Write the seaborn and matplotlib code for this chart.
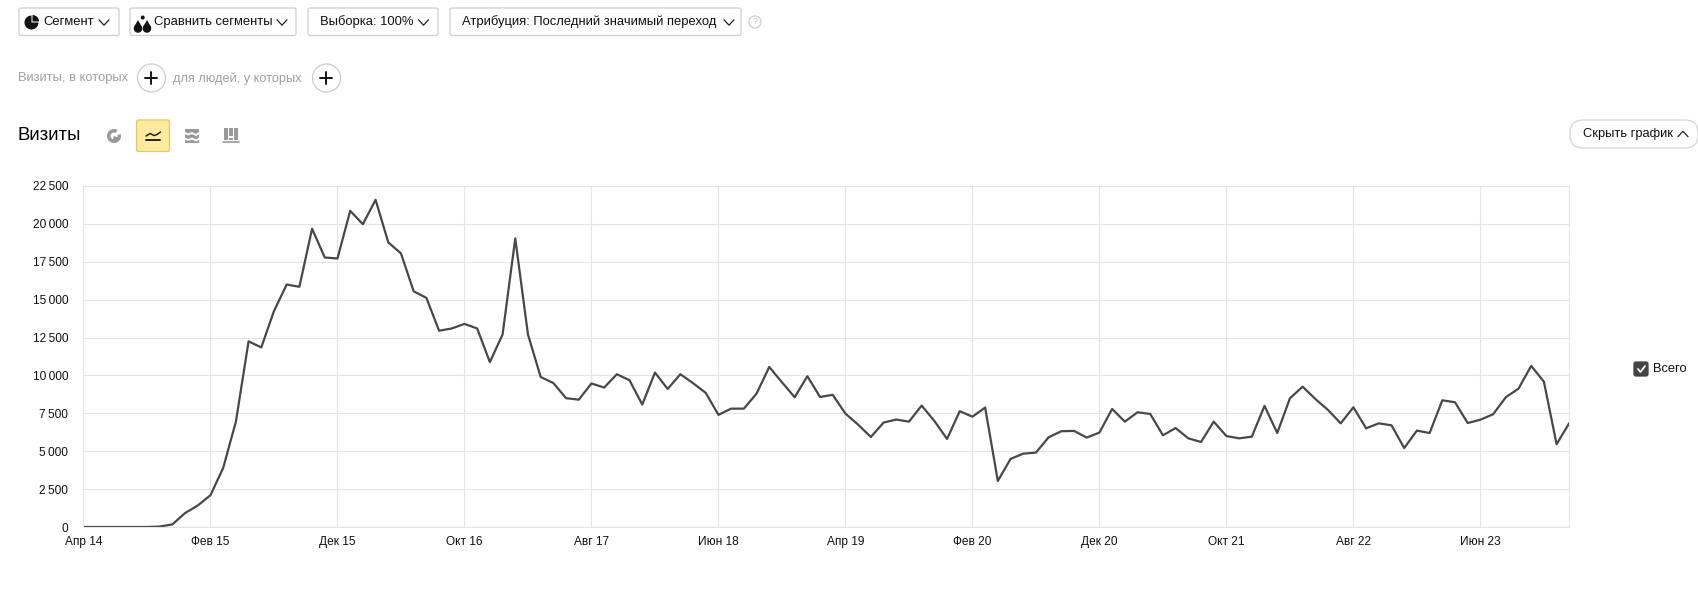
import matplotlib
matplotlib.use('Agg')
import matplotlib.pyplot as plt
import matplotlib.patches as mp
import pandas as pd
import seaborn as sns

# monthly visits, Apr 2014 .. Jan 2024
visits = [
    0, 0, 0, 0, 0, 0, 30, 170, 920, 1420, 2100, 3900, 6950, 12250, 11850, 14250,
    16000, 15850, 19680, 17780, 17720, 20860, 19980, 21590, 18780, 18050, 15550,
    15120, 12950, 13100, 13400, 13100, 10880, 12700, 19040, 12700, 9900, 9500,
    8500, 8400, 9470, 9200, 10080, 9680, 8080, 10190, 9110, 10080, 9490, 8850,
    7400, 7810, 7810, 8800, 10560, 9550, 8560, 9950, 8580, 8720, 7480, 6750,
    5940, 6890, 7090, 6950, 8010, 7000, 5810, 7640, 7280, 7880, 3040, 4490, 4840,
    4910, 5920, 6320, 6340, 5900, 6230, 7790, 6950, 7570, 7460, 6050, 6530, 5850,
    5610, 6950, 6000, 5850, 5960, 7990, 6200, 8490, 9260, 8450, 7720, 6840, 7900,
    6510, 6840, 6710, 5210, 6360, 6200, 8360, 8230, 6860, 7080, 7440, 8560, 9130,
    10630, 9590, 5460, 6860,
]
month_no = list(range(len(visits)))

x_ticks = [0, 10, 20, 30, 40, 50, 60, 70, 80, 90, 100, 110]
x_labels = ['Апр 14', 'Фев 15', 'Дек 15', 'Окт 16', 'Авг 17', 'Июн 18', 'Апр 19',
            'Фев 20', 'Дек 20', 'Окт 21', 'Авг 22', 'Июн 23']
y_ticks = [0, 2500, 5000, 7500, 10000, 12500, 15000, 17500, 20000, 22500]
y_labels = ['0', '2\u2009500', '5\u2009000', '7\u2009500', '10\u2009000', '12\u2009500',
            '15\u2009000', '17\u2009500', '20\u2009000', '22\u2009500']

W, H = 1699, 593
GRID = '#e4e4e4'
ICON = '#9a9a9a'

sns.set_theme(style='whitegrid')
plt.rcParams['font.family'] = ['Liberation Sans', 'DejaVu Sans']

fig = plt.figure(figsize=(W / 100, H / 100), dpi=100, facecolor='white')

# overlay in pixel coordinates for the page furniture
ui = fig.add_axes([0, 0, 1, 1])
ui.set_xlim(0, W)
ui.set_ylim(H, 0)
ui.axis('off')


def button(x0, x1, y0, y1, radius=2, ec='#cfcfcf', fc='white', lw=0.9):
    ui.add_patch(mp.FancyBboxPatch(
        (x0 + radius, y0 + radius), x1 - x0 - 2 * radius, y1 - y0 - 2 * radius,
        boxstyle=f'round,pad={radius},rounding_size={radius}',
        ec=ec, fc=fc, lw=lw))


def chevron(cx, cy, up=False):
    d = -2.7 if up else 2.7
    ui.plot([cx - 5, cx, cx + 5], [cy - d, cy + d, cy - d], color='#222222', lw=0.9)


def label(x, y, s, size=9.25, color='#111111', ha='left'):
    ui.text(x, y, s, fontsize=size, color=color, ha=ha, va='center')


def plus(cx, cy):
    ui.add_patch(mp.Ellipse((cx, cy), 28, 28, ec='#cccccc', fc='white', lw=0.9))
    ui.plot([cx - 6, cx + 6], [cy, cy], color='#111111', lw=1.4)
    ui.plot([cx, cx], [cy - 6, cy + 6], color='#111111', lw=1.4)


def drop(cx, cy):
    ui.add_patch(mp.Ellipse((cx, cy + 2.5), 8.5, 8.5, fc='#111111', ec='none'))
    ui.add_patch(mp.Polygon([(cx - 4, cy + 1), (cx, cy - 6), (cx + 4, cy + 1)],
                            fc='#111111', ec='none'))


# top row of selectors
button(19, 119, 8, 35.5)
button(130, 296, 8, 35.5)
button(308, 438, 8, 35.5)
button(450, 741, 8, 35.5)
label(43, 22, 'Сегмент', size=9.35)
label(154, 22, 'Сравнить сегменты', size=9.35)
label(320, 22, 'Выборка: 100%', size=9.35)
label(462, 22, 'Атрибуция: Последний значимый переход', size=9.35)
for cx in (104, 282, 423.5, 729):
    chevron(cx, 22.5)
ui.add_patch(mp.Wedge((31.5, 22.5), 7, 0, 270, fc='#111111', ec='none'))
ui.add_patch(mp.Wedge((32.5, 21.5), 6.5, 270, 360, fc='#111111', ec='none'))
drop(138, 26)
drop(147, 26)
ui.add_patch(mp.Ellipse((142.7, 17.5), 4, 4, fc='#111111', ec='none'))
ui.add_patch(mp.Ellipse((755, 22), 12, 12, ec='#c8c8c8', fc='white', lw=0.8))
label(755, 22, '?', size=6.5, color='#bbbbbb', ha='center')

# second row
label(18, 78.5, 'Визиты, в которых', color='#a0a0a0')
plus(151.5, 78)
label(173.5, 78.5, 'для людей, у которых', color='#a0a0a0', size=9.2)
plus(326.5, 78)

# title row
label(18, 135.5, 'Визиты', size=13.4, color='#000000')
ui.add_patch(mp.Wedge((114, 136), 7, 0, 360, width=3.5, fc=ICON, ec='none'))
ui.add_patch(mp.Wedge((114, 136), 5, 20, 110, fc=ICON, ec='none'))
ui.add_patch(mp.Wedge((114, 136), 8, 300, 345, fc='white', ec='none'))
button(136.5, 169.5, 120, 151.5, ec='#e2c766', fc='#ffeba0')
ui.plot([146, 150, 154, 157, 160.5], [136, 133.5, 135.5, 134.5, 132], color='#222222', lw=1.1)
ui.plot([146, 160.5], [140, 140], color='#222222', lw=1.4)
ui.add_patch(mp.Rectangle((185, 129), 14, 14, fc=ICON, ec='none'))
for y0 in (132.5, 138):
    ui.plot([184, 188, 192, 196, 200], [y0, y0 + 2, y0 + 0.5, y0 + 2.5, y0], color='white', lw=1.3)
ui.add_patch(mp.Rectangle((224, 128), 4, 12, fc=ICON, ec='none'))
ui.add_patch(mp.Rectangle((229, 128), 4, 8, fc=ICON, ec='none'))
ui.add_patch(mp.Rectangle((229, 137.5), 4, 2.5, fc=ICON, ec='none'))
ui.add_patch(mp.Rectangle((234, 128), 4, 12, fc=ICON, ec='none'))
ui.plot([223, 239], [142, 142], color=ICON, lw=1.2)

# hide button and legend
button(1570, 1698, 120, 148, radius=13, ec='#d5d5d5')
label(1583, 134, 'Скрыть график')
chevron(1683, 134, up=True)
button(1634, 1648, 362, 376, radius=2, ec='#444444', fc='#444444')
ui.plot([1638, 1640.5, 1645], [369, 372, 366], color='white', lw=1.3)
label(1653, 369, 'Всего')

# the chart itself
ax = fig.add_axes([83.5 / W, 1 - 527 / H, (1569.3 - 83.5) / W, (527 - 186) / H])
df = pd.DataFrame({'month': month_no, 'visits': visits})
sns.lineplot(data=df, x='month', y='visits', ax=ax, color='#484848',
             linewidth=1.6, errorbar=None)
ax.set_xlim(month_no[0], month_no[-1])
ax.set_ylim(0, 22500)
ax.set_xticks(x_ticks)
ax.set_xticklabels(x_labels)
ax.set_yticks(y_ticks)
ax.set_yticklabels(y_labels)
ax.set_xlabel('')
ax.set_ylabel('')
ax.grid(True, color=GRID, linewidth=0.8)
for spine in ax.spines.values():
    spine.set_color(GRID)
    spine.set_linewidth(0.8)
ax.tick_params(axis='both', length=0, labelsize=8.6, labelcolor='#111111')
ax.tick_params(axis='x', pad=6.5)
ax.tick_params(axis='y', pad=11)

fig.savefig('out.png', dpi=100)
